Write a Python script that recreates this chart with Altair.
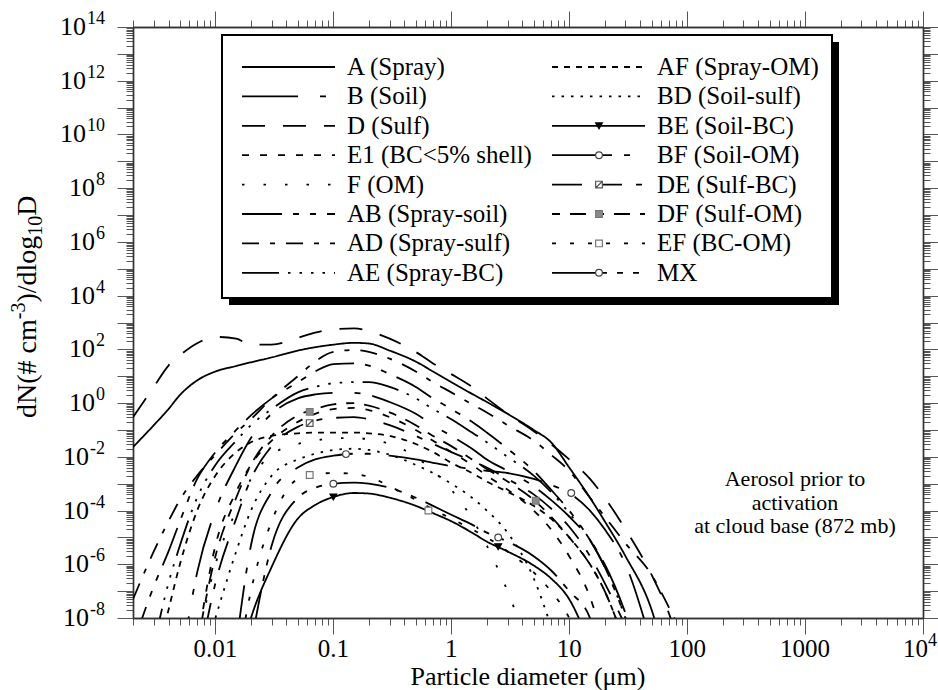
import altair as alt
import pandas as pd

FONT = "Liberation Serif"

# particle diameter grid (um)
diam = [0.002, 0.003, 0.004, 0.005, 0.007, 0.01, 0.015, 0.02, 0.03, 0.05, 0.07,
        0.1, 0.15, 0.2, 0.3, 0.5, 0.7, 1, 1.5, 2, 3, 5, 7, 10, 15, 20, 30, 50, 70, 100]
N = None

# dN/dlog10D (# cm-3) for each aerosol class on the diameter grid
A  = [0.023, 0.15, 0.6, 2, 7, 15, 24, 33, 50, 90, 120, 150, 175, 165, 90, 35, 15, 6, 2.2, 1.1, 0.4, 0.1, 0.035, 4e-3, 3e-4, 4e-5, 2e-6, 2e-8, 1e-10]
B  = [N, N, N, 1e-10, 5e-7, 1e-4, 5e-3, 0.05, 0.4, 1.5, 2.1, 2.4, 2.4, 2.0, 1.1, 0.4, 0.15, 0.06, 0.02, 8e-3, 3e-3, 8e-4, 2.5e-4, 6e-5, 8e-6, 1e-6, 1.5e-8, 1e-11]
D  = [0.3, 4, 25, 60, 170, 290, 250, 150, 150, 270, 420, 560, 600, 480, 250, 80, 30, 12, 4, 1.5, 0.4, 0.09, 0.03, 8e-3, 1.5e-3, 3e-4, 2e-5, 4e-7, 1.5e-8, 1e-10]
E1 = [N, N, N, N, 1e-9, 5e-6, 5e-4, 5e-3, 0.04, 0.2, 0.4, 0.6, 0.66, 0.55, 0.3, 0.1, 0.04, 0.015, 5e-3, 2e-3, 6e-4, 1e-4, 2e-5, 2e-6, 6e-8, 1e-9]
F  = [N, N, N, N, 1e-9, 1e-6, 1e-4, 1.5e-3, 0.012, 0.03, 0.04, 0.05, 0.05, 0.045, 0.03, 0.01, 3e-3, 6e-4, 5e-5, 5e-6, 1e-7, 2e-10]
AB = [1e-9, 1.5e-7, 3e-6, 4e-5, 1.5e-3, 1.5e-2, 0.1, 0.35, 1.5, 6, 15, 28, 30, 25, 12, 4, 1.5, 0.6, 0.2, 0.08, 0.02, 3e-3, 6e-4, 1e-4, 8e-6, 8e-7, 1e-8, 1e-11]
AD = [5e-8, 3e-6, 4e-5, 2.5e-4, 2e-3, 1.2e-2, 0.08, 0.25, 1.5, 10, 35, 80, 95, 80, 45, 15, 6, 2.5, 0.9, 0.45, 0.15, 0.04, 0.012, 3e-3, 3e-4, 6e-5, 6e-6, 4e-7, 2.5e-8, 1e-9]
AE = [N, 1e-9, 2e-7, 5e-6, 3e-4, 5e-3, 0.04, 0.15, 0.6, 2.5, 4, 5.5, 6, 6, 4, 1.5, 0.6, 0.25, 0.08, 0.035, 0.01, 2e-3, 5e-4, 8e-5, 8e-6, 8e-7, 1e-8, 1e-11]
AF = [N, 1e-10, 2e-8, 1e-6, 1e-4, 2e-3, 1.5e-2, 0.035, 0.06, 0.075, 0.08, 0.08, 0.08, 0.075, 0.06, 0.03, 0.015, 6e-3, 2.5e-3, 1.2e-3, 5e-4, 1.5e-4, 5e-5, 1e-5, 1e-6, 1e-7, 1e-9]
BD = [N, N, N, N, N, 1e-8, 3e-6, 1e-4, 2e-3, 8e-3, 0.013, 0.018, 0.02, 0.018, 0.012, 5e-3, 2.5e-3, 1e-3, 3e-4, 1e-4, 1.5e-5, 3e-7, 5e-9]
BE = [N, N, N, N, N, N, 1e-10, 1e-8, 8e-7, 5e-5, 1.6e-4, 3.2e-4, 4.5e-4, 4.3e-4, 3e-4, 1.5e-4, 8e-5, 4e-5, 1.5e-5, 7e-6, 3e-6, 9e-7, 3e-7, 5e-8, 1e-9]
BF = [N, N, N, N, N, N, 1e-9, 5e-6, 5e-4, 4e-3, 8e-3, 0.011, 0.013, 0.013, 0.011, 8e-3, 6e-3, 4.5e-3, 3.5e-3, 3e-3, 2.5e-3, 1.5e-3, 9e-4, 4.5e-4, 1e-4, 2e-5, 1e-6, 1e-9]
DE = [N, N, N, N, 1e-10, 2e-7, 5e-5, 1.5e-3, 0.025, 0.13, 0.22, 0.28, 0.3, 0.25, 0.15, 0.06, 0.03, 0.015, 7e-3, 4e-3, 1.5e-3, 4e-4, 1.2e-4, 2.5e-5, 2e-6, 2e-7, 5e-9]
DF = [N, N, N, N, 1e-9, 2e-6, 3e-4, 5e-3, 0.06, 0.35, 0.6, 0.9, 1.0, 0.8, 0.45, 0.15, 0.06, 0.025, 8e-3, 3.5e-3, 1.2e-3, 2.5e-4, 6e-5, 1e-5, 1e-6, 1e-7, 1e-9]
EF = [N, N, N, N, N, N, 1e-10, 1e-7, 4e-5, 1.5e-3, 2.2e-3, 2.5e-3, 2.3e-3, 1.8e-3, 8e-4, 2.5e-4, 1.1e-4, 5e-5, 2e-5, 1e-5, 3e-6, 5e-7, 1e-7, 1e-8, 1e-10]
MX = [N, N, N, N, N, N, N, 1e-9, 5e-6, 3e-4, 7e-4, 1e-3, 1.1e-3, 1e-3, 7e-4, 3e-4, 1.5e-4, 7e-5, 3e-5, 1.5e-5, 7e-6, 2e-6, 6e-7, 1e-7, 1e-8, 1e-10]

names = ["A", "B", "D", "E1", "F", "AB", "AD", "AE",
         "AF", "BD", "BE", "BF", "DE", "DF", "EF", "MX"]
labels = ["A (Spray)", "B (Soil)", "D (Sulf)", "E1 (BC<5% shell)", "F (OM)",
          "AB (Spray-soil)", "AD (Spray-sulf)", "AE (Spray-BC)",
          "AF (Spray-OM)", "BD (Soil-sulf)", "BE (Soil-BC)", "BF (Soil-OM)",
          "DE (Sulf-BC)", "DF (Sulf-OM)", "EF (BC-OM)", "MX"]
columns = [A, B, D, E1, F, AB, AD, AE, AF, BD, BE, BF, DE, DF, EF, MX]

# line dash pattern of each class
dashes = [[1, 0], [56, 22, 6, 12], [23, 18], [7, 11], [2.5, 19],
          [40, 11, 6, 11, 6, 11], [17, 11, 5, 11], [37, 9, 2.5, 9, 2.5, 9, 2.5, 9, 2.5, 9],
          [6, 6], [2.5, 7], [1, 0], [60, 12, 6, 18],
          [30, 18, 22, 14, 6, 14], [8, 10, 16, 10], [4, 14], [55, 10, 6, 10, 6, 10]]

# symbols placed along some of the curves
mk_name = ["BE", "BE", "BF", "BF", "MX", "MX", "DE", "DF", "DF", "EF", "EF"]
mk_d = [0.1, 2.5, 0.128, 10.4, 0.1, 2.5, 0.063, 0.063, 5.2, 0.063, 0.64]
mk_n = [3.2e-4, 4.5e-6, 0.0126, 4.5e-4, 1e-3, 1e-5, 0.18, 0.47, 2.3e-4, 2.1e-3, 1e-4]

sym_names = ["BE", "BF", "DE", "DF", "EF", "MX"]
sym_shapes = ["triangle-down", "circle", "M-1,-1H1V1H-1ZM-1,1L1,-1", "square", "square", "circle"]
sym_fill = ["black", "white", "white", "#8a8a8a", "white", "white"]
sym_stroke = ["black", "#444444", "#555555", "#777777", "#777777", "#444444"]

W, H = 790, 591

rows = []
for nm, vals in zip(names, columns):
    for d, v in zip(diam, vals):
        if v is not None:
            rows.append({"s": nm, "d": d, "n": v})
curves = pd.DataFrame(rows)
marks = pd.DataFrame({"s": mk_name, "d": mk_d, "n": mk_n})

xs = alt.Scale(type="log", domain=[0.002, 1e4], nice=False)
ys = alt.Scale(type="log", domain=[1e-8, 1e14], nice=False)
dash_scale = alt.Scale(domain=names, range=dashes)
shape_scale = alt.Scale(domain=sym_names, range=sym_shapes)
fill_scale = alt.Scale(domain=sym_names, range=sym_fill)
stroke_scale = alt.Scale(domain=sym_names, range=sym_stroke)

# tick positions for the log axes
def rnd(v):
    return float(f"{v:.6g}")

x_major = [rnd(10.0 ** e) for e in range(-2, 5)]
x_minor = [rnd(m * 10.0 ** e) for e in range(-3, 4) for m in range(2, 10)
           if 0.002 - 1e-12 <= m * 10.0 ** e <= 1e4]
y_major = [rnd(10.0 ** e) for e in range(-8, 15)]
y_minor = [rnd(m * 10.0 ** e) for e in range(-8, 14) for m in range(2, 10)]


def ax(orient, values, size):
    return alt.Axis(orient=orient, values=values, tickSize=size, labels=False,
                    title=None, grid=False, domainColor="#333333", domainWidth=1.4,
                    tickColor="#555555", tickWidth=1)


def axis_layer(xo, yo, xv, yv, size):
    return alt.Chart(marks).mark_point(opacity=0).encode(
        x=alt.X("d:Q", scale=xs, axis=ax(xo, xv, size)),
        y=alt.Y("n:Q", scale=ys, axis=ax(yo, yv, size)),
    )


axes = [
    axis_layer("bottom", "left", x_minor, y_minor, 7),
    axis_layer("bottom", "left", x_major, y_major, 16),
    axis_layer("top", "right", x_minor, y_minor, 7),
    axis_layer("top", "right", x_major, y_major, 16),
]

lines = alt.Chart(curves).mark_line(color="black", strokeWidth=1.8, clip=True,
                                    interpolate="monotone").encode(
    x=alt.X("d:Q", scale=xs, axis=None),
    y=alt.Y("n:Q", scale=ys, axis=None),
    strokeDash=alt.StrokeDash("s:N", scale=dash_scale, legend=None),
)

points = alt.Chart(marks).mark_point(size=45, opacity=1, strokeWidth=1.2).encode(
    x=alt.X("d:Q", scale=xs, axis=None),
    y=alt.Y("n:Q", scale=ys, axis=None),
    shape=alt.Shape("s:N", scale=shape_scale, legend=None),
    fill=alt.Fill("s:N", scale=fill_scale, legend=None),
    stroke=alt.Stroke("s:N", scale=stroke_scale, legend=None),
)

# legend box with drop shadow
one = pd.DataFrame({"k": [0]})
shadow = alt.Chart(one).mark_rect(fill="black").encode(
    x=alt.value(96), x2=alt.value(706), y=alt.value(15), y2=alt.value(278))
box = alt.Chart(one).mark_rect(fill="white", stroke="black", strokeWidth=2).encode(
    x=alt.value(89), x2=alt.value(699), y=alt.value(8), y2=alt.value(271))

leg = pd.DataFrame({"s": names, "label": labels})
leg["col"] = [i // 8 for i in range(len(names))]
leg["row"] = [i % 8 for i in range(len(names))]
leg["lx0"] = 109 + 310 * leg["col"]
leg["lx1"] = leg["lx0"] + 93
leg["ly"] = 40 + 29.4 * leg["row"]
leg["tx"] = leg["lx1"] + 12
leg["mx"] = leg["lx0"] + 47

leg_lines = alt.Chart(leg).mark_rule(color="black", strokeWidth=1.8).encode(
    x=alt.X("lx0:Q", scale=None), x2=alt.X2("lx1:Q"),
    y=alt.Y("ly:Q", scale=None),
    strokeDash=alt.StrokeDash("s:N", scale=dash_scale, legend=None),
)
leg_syms = alt.Chart(leg[leg["s"].isin(sym_names)]).mark_point(
    size=45, opacity=1, strokeWidth=1.2).encode(
    x=alt.X("mx:Q", scale=None), y=alt.Y("ly:Q", scale=None),
    shape=alt.Shape("s:N", scale=shape_scale, legend=None),
    fill=alt.Fill("s:N", scale=fill_scale, legend=None),
    stroke=alt.Stroke("s:N", scale=stroke_scale, legend=None),
)
leg_text = alt.Chart(leg).mark_text(align="left", baseline="middle", font=FONT,
                                     fontSize=25, color="black").encode(
    x=alt.X("tx:Q", scale=None), y=alt.Y("ly:Q", scale=None), text="label:N")

# y tick labels: "10" with a raised exponent, right aligned against the axis
y_exp = [-8, -6, -4, -2, 0, 2, 4, 6, 8, 10, 12, 14]
ylab = pd.DataFrame({"val": [10.0 ** e for e in y_exp], "ex": [str(e) for e in y_exp]})
ylab["w"] = ylab["ex"].map(lambda t: sum(6.0 if c == "-" else 9.0 for c in t))
ylab["bx"] = -29 - ylab["w"]
ylab["exx"] = ylab["bx"] + 1
ylab["base"] = "10"
ylab_base = alt.Chart(ylab).mark_text(align="right", baseline="middle", font=FONT,
                                       fontSize=26, color="black").encode(
    x=alt.X("bx:Q", scale=None), y=alt.Y("val:Q", scale=ys, axis=None), text="base:N")
ylab_exp = alt.Chart(ylab).mark_text(align="left", baseline="middle", font=FONT,
                                      fontSize=18, dy=-8, color="black").encode(
    x=alt.X("exx:Q", scale=None), y=alt.Y("val:Q", scale=ys, axis=None), text="ex:N")

# x tick labels
x_lab_val = [0.01, 0.1, 1, 10, 100, 1000]
x_lab_txt = ["0.01", "0.1", "1", "10", "100", "1000"]
xlab = pd.DataFrame({"v": x_lab_val, "t": x_lab_txt})
xlab_layer = alt.Chart(xlab).mark_text(align="center", baseline="middle", font=FONT,
                                        fontSize=25, color="black").encode(
    x=alt.X("v:Q", scale=xs, axis=None), y=alt.value(H + 31), text="t:N")
xlast = pd.DataFrame({"v": [1e4], "b": ["10"], "e": ["4"]})
xlast_base = alt.Chart(xlast).mark_text(align="right", baseline="middle", font=FONT,
                                         fontSize=25, dx=5, color="black").encode(
    x=alt.X("v:Q", scale=xs, axis=None), y=alt.value(H + 31), text="b:N")
xlast_exp = alt.Chart(xlast).mark_text(align="left", baseline="middle", font=FONT,
                                        fontSize=18, dx=5, dy=-8, color="black").encode(
    x=alt.X("v:Q", scale=xs, axis=None), y=alt.value(H + 31), text="e:N")

x_title = alt.Chart(one).mark_text(align="center", baseline="middle", font=FONT,
                                    fontSize=26, color="black",
                                    text="Particle diameter (\u03bcm)").encode(
    x=alt.value(W / 2), y=alt.value(H + 59))

# y title pieces, written bottom-to-top, with the superscript and subscript
yt = pd.DataFrame({
    "t": ["dN(# cm", "-3", ")/dlog", "10", "D"],
    "fs": [28, 20, 28, 20, 28],
    "dx": [0, -11, 0, 6, 0],
})
em = {"dN(# cm": 3.527, "-3": 0.833, ")/dlog": 2.389, "10": 1.0, "D": 0.722}
pos, cur = [], 391.0
for t, fs in zip(yt["t"], yt["fs"]):
    pos.append(cur)
    cur -= em[t] * fs
yt["py"] = pos
yt["px"] = -97 + yt["dx"]
y_title = alt.Chart(yt).mark_text(align="left", baseline="alphabetic", angle=270,
                                   font=FONT, color="black").encode(
    x=alt.X("px:Q", scale=None), y=alt.Y("py:Q", scale=None),
    size=alt.Size("fs:Q", scale=None, legend=None), text="t:N")

note = pd.DataFrame({"t": ["Aerosol prior to", "activation", "at cloud base (872 mb)"],
                     "py": [452, 475.5, 499]})
note_layer = alt.Chart(note).mark_text(align="center", baseline="middle", font=FONT,
                                        fontSize=22, color="black").encode(
    x=alt.value(662), y=alt.Y("py:Q", scale=None), text="t:N")

chart = alt.layer(
    *axes, lines, points, shadow, box, leg_lines, leg_syms, leg_text,
    ylab_base, ylab_exp, xlab_layer, xlast_base, xlast_exp, x_title, y_title, note_layer,
).resolve_axis(x="independent", y="independent").properties(
    width=W, height=H,
    autosize=alt.AutoSizeParams(type="none"),
    padding={"left": 133, "top": 27, "right": 15, "bottom": 72},
    background="white",
).configure_view(stroke=None)

chart.save("out.html", embed_options={"renderer": "svg", "actions": False})
